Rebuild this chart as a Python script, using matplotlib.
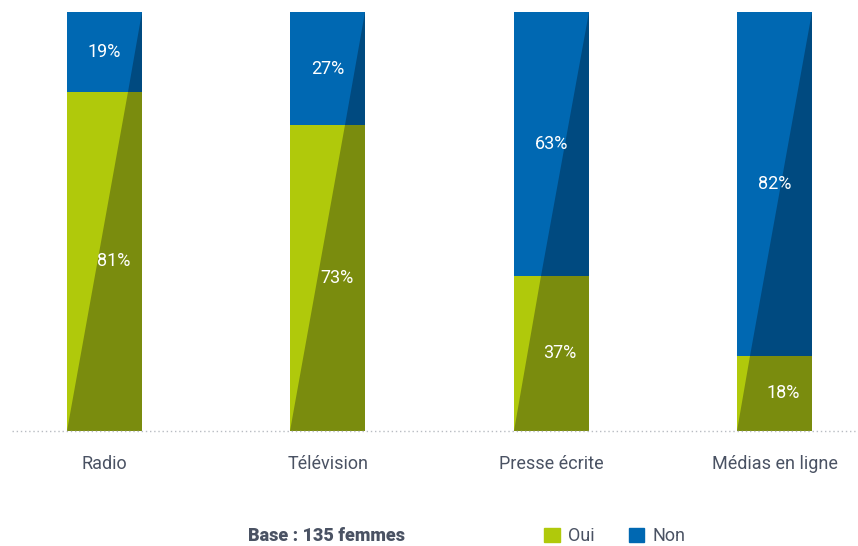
import matplotlib.pyplot as plt
from matplotlib.patches import Polygon, Patch

# Données
categories = ["Radio", "Télévision", "Presse écrite", "Médias en ligne"]
oui = [81, 73, 37, 18]
non = [19, 27, 63, 82]

vert = "#B0C90B"
vert_fonce = "#7A8C0E"
bleu = "#0068B2"
bleu_fonce = "#004A80"
gris_texte = "#4A5263"

plt.rcParams["font.family"] = ["Roboto", "DejaVu Sans"]

fig = plt.figure(figsize=(8.58, 5.46), dpi=100)
ax = fig.add_axes([12 / 858, 1 - 431 / 546, 1 - 12 / 858, (431 - 12) / 546])

largeur = 0.336
x = list(range(len(categories)))

ax.bar(x, oui, width=largeur, color=vert, linewidth=0)
ax.bar(x, non, width=largeur, bottom=oui, color=bleu, linewidth=0)

# partie foncée à droite de la diagonale
for xi, o, n in zip(x, oui, non):
    g = xi - largeur / 2
    d = xi + largeur / 2
    xo = g + largeur * o / 100
    ax.add_patch(Polygon([(g, 0), (d, 0), (d, o), (xo, o)],
                         closed=True, color=vert_fonce, linewidth=0))
    ax.add_patch(Polygon([(xo, o), (d, o), (d, 100)],
                         closed=True, color=bleu_fonce, linewidth=0))
    ax.text(xi + 0.04, o / 2, f"{o}%", ha="center", va="center",
            color="white", fontsize=13)
    ax.text(xi, o + n / 2, f"{n}%", ha="center", va="center",
            color="white", fontsize=13)

ax.set_xlim(-0.414, 3.374)
ax.set_ylim(0, 100)
ax.axhline(0, color="#B8BCC2", linestyle=(0, (1, 2)), linewidth=1, clip_on=False)

ax.set_xticks(x)
ax.set_xticklabels(categories, fontsize=13, color=gris_texte)
ax.tick_params(axis="x", length=0, pad=17)
ax.set_yticks([])
for s in ax.spines.values():
    s.set_visible(False)

fig.text(326 / 858, 1 - 536 / 546, "Base : 135 femmes", ha="center", va="center",
         fontsize=13, fontweight="heavy", color=gris_texte)

handles = [Patch(color=vert, label="Oui"), Patch(color=bleu, label="Non")]
fig.legend(handles=handles, loc="center left", ncol=2, frameon=False,
           bbox_to_anchor=(528 / 858, 1 - 536 / 546), fontsize=13,
           handlelength=0.85, handleheight=0.85, handletextpad=0.45,
           columnspacing=1.9, labelcolor=gris_texte)

fig.savefig("out.png", dpi=100)
